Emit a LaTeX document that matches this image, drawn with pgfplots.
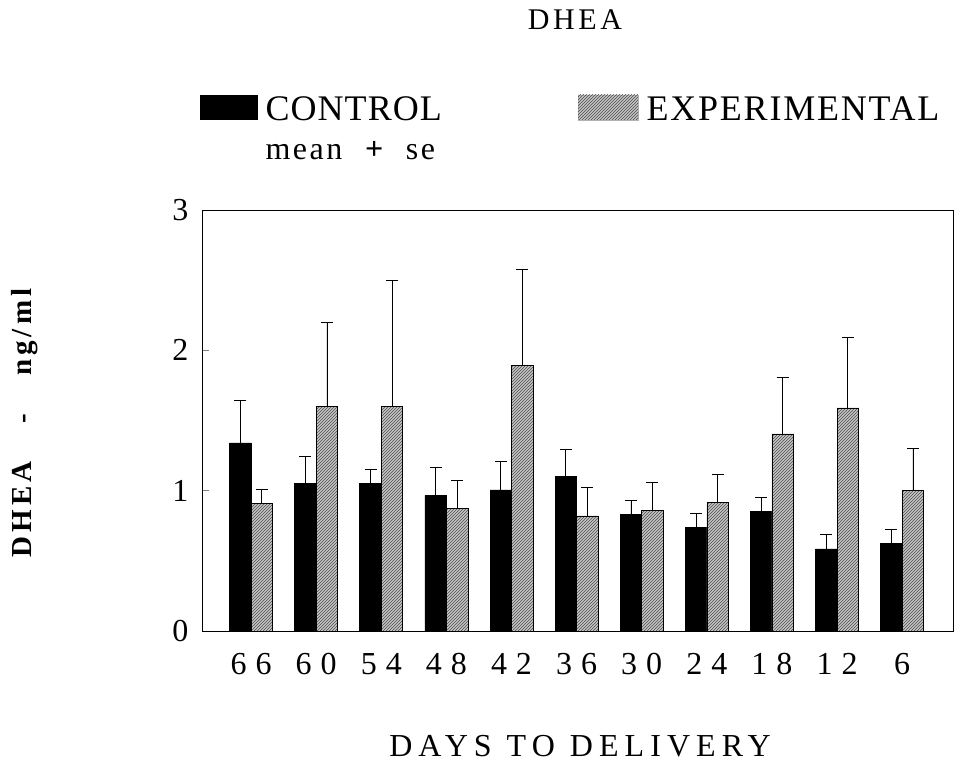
\documentclass[border=0pt]{standalone}
\usepackage{fontspec}
\setmainfont{Liberation Serif}
\usepackage{pgfplots}
\usepackage{pgfplotstable}
\pgfplotsset{compat=1.18}
\usetikzlibrary{patterns}

\pgfplotstableread{
x  c      ce     e      ee
0  1.34   0.30   0.91   0.10
1  1.05   0.195  1.60   0.60
2  1.05   0.10   1.60   0.90
3  0.965  0.20   0.875  0.20
4  1.005  0.20   1.89   0.69
5  1.10   0.195  0.82   0.20
6  0.83   0.10   0.86   0.20
7  0.74   0.10   0.915  0.20
8  0.85   0.10   1.405  0.40
9  0.585  0.10   1.59   0.50
10 0.625  0.10   1.00   0.30
}\datatable

\begin{document}
\begin{tikzpicture}
\useasboundingbox (0pt,0pt) rectangle (956pt,762pt);
\begin{axis}[
  at={(202pt,131pt)}, anchor=south west,
  scale only axis, width=751pt, height=421pt,
  xmin=-0.753, xmax=10.78, ymin=0, ymax=3,
  ybar=0pt, bar width=21.5pt,
  ytick={0,1,2,3},
  xtick={0,...,10},
  xticklabels={6\hspace{9pt}6,6\hspace{9pt}0,5\hspace{9pt}4,4\hspace{9pt}8,4\hspace{9pt}2,3\hspace{9pt}6,3\hspace{9pt}0,2\hspace{9pt}4,1\hspace{9pt}8,1\hspace{9pt}2,6},
  xtick style={draw=none},
  ytick pos=left, tick align=inside, major tick length=7pt,
  ytick style={line width=0.6pt},
  /pgf/number format/assume math mode=true,
  tick label style={font=\fontsize{32}{36}\selectfont},
  yticklabel style={xshift=-10pt},
  xticklabel style={yshift=-19pt},
  axis line style={line width=0.7pt},
  every axis plot/.append style={line width=0.6pt},
]
\addplot[fill=black, draw=black,
  error bars/.cd, y dir=plus, y explicit,
  error bar style={line width=0.8pt, black},
  error mark options={rotate=90, black, mark size=6pt, line width=0.8pt}]
  table[x=x, y=c, y error=ce] {\datatable};
\addplot[fill=gray!45, draw=black, postaction={pattern=north east lines, pattern color=black!70},
  error bars/.cd, y dir=plus, y explicit,
  error bar style={line width=0.8pt, black},
  error mark options={rotate=90, black, mark size=6pt, line width=0.8pt}]
  table[x=x, y=e, y error=ee] {\datatable};
\end{axis}
% title
\node[font=\fontsize{30}{34}\selectfont\addfontfeature{LetterSpace=12}] at (575pt,742pt) {DHEA};
% legend
\fill[black] (200pt,642pt) rectangle (258pt,667pt);
\node[anchor=base west, font=\fontsize{36}{40}\selectfont\addfontfeature{LetterSpace=3}] at (262pt,641pt) {CONTROL};
\filldraw[fill=gray!45, draw=gray!60] (578pt,642pt) rectangle (638pt,667pt);
\fill[pattern=north east lines, pattern color=black!70] (578pt,642pt) rectangle (638pt,667pt);
\node[anchor=base west, font=\fontsize{36}{40}\selectfont\addfontfeature{LetterSpace=5}] at (643pt,641pt) {EXPERIMENTAL};
\node[anchor=base west, font=\fontsize{32}{36}\selectfont\addfontfeature{LetterSpace=8}] at (262pt,602pt) {mean\hspace{20pt}\textbf{+}\hspace{20pt}se};
% x label
\node[font=\fontsize{32}{36}\selectfont\addfontfeature{LetterSpace=19}] at (580pt,16pt) {DAYS\hspace{15pt}TO\hspace{15pt}DELIVERY};
% y label
\node[rotate=90, font=\fontsize{29}{33}\selectfont\bfseries\addfontfeature{LetterSpace=14}] at (25pt,339pt) {DHEA\hspace{38pt}-\hspace{38pt}ng/ml};
\end{tikzpicture}
\end{document}
